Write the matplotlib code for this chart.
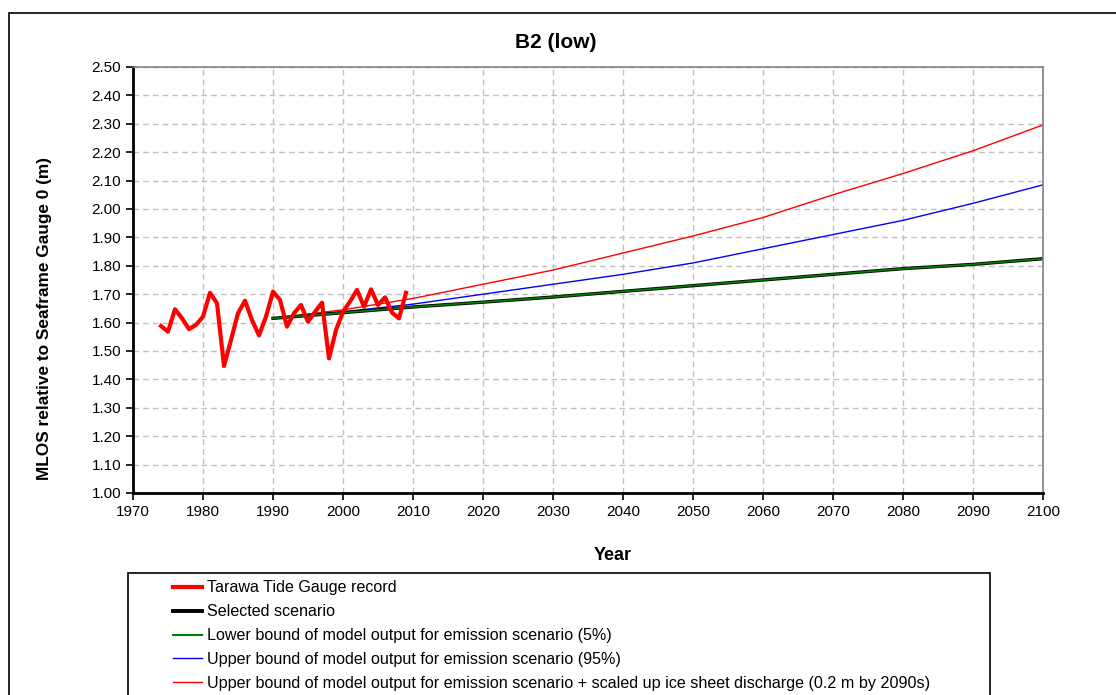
import numpy as np
import matplotlib
matplotlib.use("Agg")
import matplotlib.pyplot as plt
from matplotlib.patches import Rectangle

plt.rcParams['font.family'] = ['Liberation Sans', 'DejaVu Sans']

# tide gauge record (annual means)
gauge_years = list(range(1974, 2010))
gauge_level = [1.588, 1.568, 1.647, 1.615, 1.577, 1.592, 1.621, 1.705, 1.668, 1.447,
               1.539, 1.633, 1.677, 1.609, 1.555, 1.621, 1.709, 1.680, 1.586, 1.633,
               1.662, 1.603, 1.638, 1.670, 1.474, 1.574, 1.638, 1.674, 1.715, 1.656,
               1.717, 1.662, 1.689, 1.635, 1.615, 1.705]

# scenario projections (decadal)
scen_years = [1990, 2000, 2010, 2020, 2030, 2040, 2050, 2060, 2070, 2080, 2090, 2100]
selected = [1.615, 1.635, 1.655, 1.672, 1.690, 1.710, 1.730, 1.750, 1.770, 1.790, 1.805, 1.825]
lower_5 = [1.615, 1.635, 1.655, 1.672, 1.690, 1.710, 1.730, 1.750, 1.770, 1.790, 1.805, 1.825]
upper_95 = [1.615, 1.638, 1.665, 1.700, 1.735, 1.770, 1.810, 1.860, 1.910, 1.960, 2.020, 2.085]
upper_ice = [1.615, 1.645, 1.685, 1.735, 1.785, 1.845, 1.905, 1.970, 2.050, 2.125, 2.205, 2.296]

labels = ['Tarawa Tide Gauge record',
          'Selected scenario',
          'Lower bound of model output for emission scenario (5%)',
          'Upper bound of model output for emission scenario (95%)',
          'Upper bound of model output for emission scenario + scaled up ice sheet discharge (0.2 m by 2090s)']

W, H = 1116, 695
fig = plt.figure(figsize=(W / 100, H / 100), dpi=100)
ax = fig.add_axes([133 / W, 1 - 493 / H, (1043 - 133) / W, (493 - 67) / H])

ax.plot(scen_years, upper_ice, color='red', lw=1.0)
ax.plot(scen_years, upper_95, color='blue', lw=1.0)
ax.plot(scen_years, selected, color='black', lw=2.4)
ax.plot(scen_years, lower_5, color='green', lw=1.2)
ax.plot(gauge_years, gauge_level, color='red', lw=3.0)

ax.set_xlim(1970, 2100)
ax.set_ylim(1.0, 2.5)
ax.set_xticks(np.arange(1970, 2101, 10))
ax.set_yticks(np.arange(1.0, 2.501, 0.1))
ax.yaxis.set_major_formatter(matplotlib.ticker.FormatStrFormatter('%.2f'))
ax.tick_params(labelsize=11, direction='out', length=5, width=1.2, colors='black')
ax.grid(True, color='#c0c0c0', linestyle=(0, (4, 3)), lw=1.0)
ax.set_axisbelow(True)
for s in ['left', 'bottom']:
    ax.spines[s].set_color('black')
    ax.spines[s].set_linewidth(2)
for s in ['top', 'right']:
    ax.spines[s].set_color('#808080')
    ax.spines[s].set_linewidth(1.2)

# titles placed where the original chart has them
fig.text(556 / W, 1 - 43 / H, 'B2 (low)', fontsize=15, fontweight='bold', ha='center', va='center')
fig.text(613 / W, 1 - 556 / H, 'Year', fontsize=13, fontweight='bold', ha='center', va='center')
fig.text(45 / W, 1 - 319 / H, 'MLOS relative to Seaframe Gauge 0 (m)', fontsize=12.4,
         fontweight='bold', rotation=90, ha='center', va='center')

# outer chart frame and legend box
fig.patches.append(Rectangle((9 / W, -0.1), 1.2, 1.1 - 13 / H, transform=fig.transFigure,
                             fill=False, edgecolor='black', lw=1.2))
fig.patches.append(Rectangle((128 / W, -0.1), (990 - 128) / W, 0.1 + 1 - 573 / H,
                             transform=fig.transFigure, fill=False, edgecolor='black', lw=1.2))

leg_handles = [plt.Line2D([], [], color='red', lw=3.0),
               plt.Line2D([], [], color='black', lw=2.8),
               plt.Line2D([], [], color='green', lw=1.5),
               plt.Line2D([], [], color='blue', lw=1.0),
               plt.Line2D([], [], color='red', lw=1.0)]
fig.legend(leg_handles, labels, loc='upper left', bbox_to_anchor=(167 / W, 1 - 574 / H),
           frameon=False, fontsize=11.6, handlelength=1.8, handletextpad=0.3,
           labelspacing=0.55, borderaxespad=0)

fig.savefig('out.png', dpi=100)
